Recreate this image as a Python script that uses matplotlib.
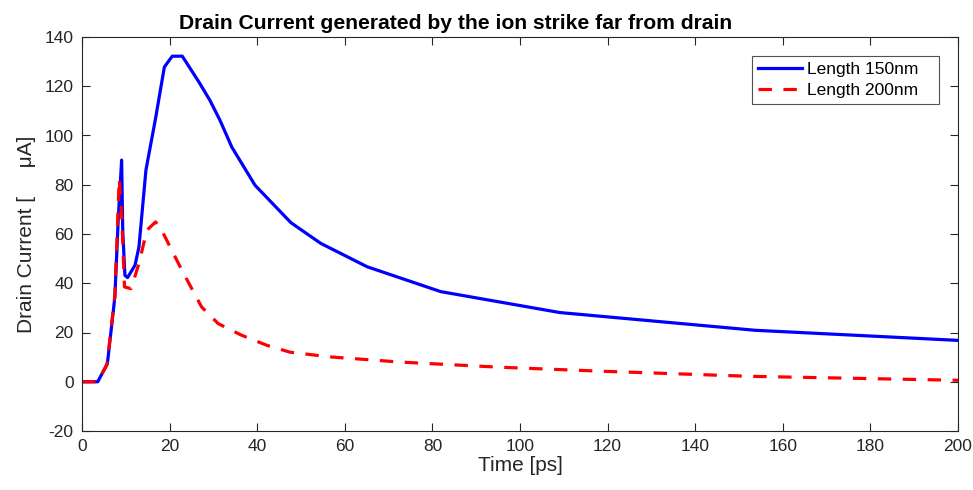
import matplotlib
matplotlib.use("Agg")
import matplotlib.pyplot as plt

plt.rcParams['font.family'] = ['Liberation Sans', 'DejaVu Sans']
plt.rcParams['axes.unicode_minus'] = False

# Data
t_150 = [0, 3.6, 5.8, 7.5, 8.3, 9.05, 9.3, 9.8, 10.4, 12.1, 13.0, 14.6, 16.8, 18.8,
         20.6, 22.9, 26.7, 29.2, 31.5, 34.2, 39.5, 47.7, 54.5, 65.1, 81.9, 109.1, 153.7, 200]
i_150 = [0, 0, 7.4, 34.4, 67, 90, 61.5, 43.2, 42.3, 47.3, 54.7, 86, 107, 127.8,
         132.2, 132.2, 121.7, 114.3, 106.2, 95.3, 79.8, 64.6, 56.2, 46.7, 36.6, 28.1, 20.9, 16.8]

t_200 = [0, 3.6, 5.7, 7.5, 8.5, 9.0, 9.7, 11.2, 13.0, 14.8, 16.8, 18.2, 22.8, 27.3,
         31.1, 36.3, 42.2, 47.5, 56.6, 72.6, 95.4, 118.3, 152.5, 200]
i_200 = [0, 0, 7, 35, 82.5, 70, 38.5, 37.8, 48, 61.5, 64.9, 61.5, 45.3, 30.4,
         23.6, 19.0, 14.8, 12, 10.1, 8.0, 5.9, 4.3, 2.2, 0.6]

labels = ['Length 150nm', 'Length 200nm']
x_ticks = list(range(0, 201, 20))
y_ticks = list(range(-20, 141, 20))

fig = plt.figure(figsize=(9.73, 4.9), dpi=100)
ax = fig.add_axes([82/973, 1 - 431/490, 876/973, 394/490])

ax.plot(t_150, i_150, color='#0000ff', lw=2.3, label=labels[0] + '   ')
ax.plot(t_200, i_200, color='#ff0000', lw=2.3, linestyle=(0, (4.2, 3.6)),
        label=labels[1] + '   ')

ax.set_xlim(0, 200)
ax.set_ylim(-20, 140)
ax.set_xticks(x_ticks)
ax.set_yticks(y_ticks)

dark = '#262626'
for s in ax.spines.values():
    s.set_color(dark)
    s.set_linewidth(0.8)
ax.tick_params(direction='in', length=6, width=0.8, colors=dark, labelsize=12.5,
               top=True, right=True, pad=6)

ax.set_xlabel('Time [ps]', fontsize=15, color=dark, labelpad=1)
ax.set_ylabel('Drain Current [     μA]', fontsize=15, color=dark, labelpad=6)
ax.set_title('Drain Current generated by the ion strike far from drain',
             fontsize=15.2, fontweight='bold', x=0.426, pad=6)

leg = ax.legend(loc='upper right', fontsize=12.5, frameon=True, fancybox=False,
                edgecolor=dark, borderaxespad=1.1, handlelength=2.5,
                handletextpad=0.3, borderpad=0.35, labelspacing=0.3)
leg.get_frame().set_linewidth(0.8)

fig.savefig('out.png', dpi=100)
